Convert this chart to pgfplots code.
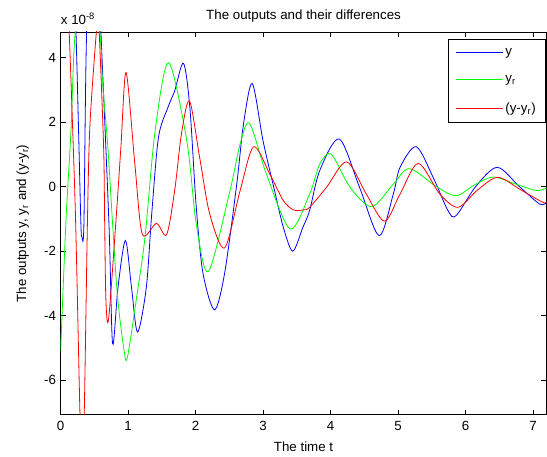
\documentclass[border=0pt]{standalone}
\usepackage{fontspec}
\setmainfont{Liberation Sans}
\usepackage{pgfplots}
\pgfplotsset{compat=1.18}
\definecolor{mblue}{rgb}{0,0,1}
\definecolor{mgreen}{rgb}{0,1,0}
\definecolor{mred}{rgb}{1,0,0}
\begin{document}
\begin{tikzpicture}
\useasboundingbox (-45.5pt,-31.5pt) rectangle (364.9pt,311.25pt);
\begin{axis}[
  scale only axis, width=364.5pt, height=287.25pt,
  xmin=0, xmax=7.2, ymin=-7.08, ymax=4.8,
  xtick={0,...,7}, ytick={-6,-4,...,4},
  tick align=inside, major tick length=3.75pt,
  axis line style={line width=0.6pt},
  every tick/.style={black, line width=0.6pt},
  /pgf/number format/assume math mode=true,
  tick label style={font=\normalsize},
  xticklabel style={yshift=-1.5pt},
  xlabel={The time t},
  xlabel style={at={(axis description cs:0.5,-0.0957)}, anchor=base},
  ylabel={The outputs y, y\textsubscript{r} and (y-y\textsubscript{r})},
  ylabel style={at={(axis description cs:-0.0713,0.5)}, anchor=base},
  legend style={at={(0.998,0.981)}, anchor=north east, draw=black,
    line width=0.6pt, inner xsep=5.5pt, inner ysep=5pt, row sep=10.5pt,
    nodes={inner sep=1.5pt}},
  legend cell align=left,
  legend image code/.code={\draw[#1] (0pt,0pt) -- (35pt,0pt);},
  every axis plot/.append style={line width=0.6pt, smooth},
]
\addplot[mblue] coordinates {
(0,5.2) (0.08,5.8) (0.15,6.0) (0.2,5.6) (0.227,4.8) (0.265,1.8) (0.30,-1.15)
(0.316,-1.57) (0.345,-1.15) (0.385,4.8) (0.49,10) (0.597,4.8) (0.716,-1.15)
(0.77,-4.87) (0.85,-3.12) (0.96,-1.67) (1.05,-3.12) (1.14,-4.51) (1.27,-3.12)
(1.35,-0.84) (1.45,1.53) (1.59,2.46) (1.69,2.97) (1.82,3.83) (1.915,2.46)
(2.01,-0.64) (2.11,-2.69) (2.28,-3.82) (2.43,-2.69) (2.61,0.08) (2.71,1.94)
(2.84,3.20) (3.00,1.42) (3.17,-0.12) (3.30,-1.26) (3.44,-2.0) (3.59,-1.26)
(3.69,-0.74) (3.84,0.50) (4.13,1.48) (4.43,-0.02) (4.72,-1.52) (4.93,-0.23)
(5.03,0.60) (5.27,1.24) (5.52,0.29) (5.74,-0.74) (5.86,-0.90) (6.15,0)
(6.47,0.60) (6.80,0) (7.10,-0.54) (7.2,-0.49)
};
\addlegendentry{y}
\addplot[mgreen] coordinates {
(0,-5.1) (0.079,-1.05) (0.153,1.73) (0.216,4.8) (0.40,8.0) (0.58,4.8)
(0.62,3.28) (0.70,1.22) (0.77,-1.15) (0.844,-3.43) (0.94,-5.08) (0.99,-5.29)
(1.126,-3.43) (1.25,-1.57) (1.40,1.73) (1.60,3.85) (1.87,1.42) (2.01,-1.16)
(2.19,-2.63) (2.51,-0.12) (2.66,1.32) (2.80,1.96) (3.05,0.39) (3.40,-1.31)
(3.69,-0.23) (3.84,0.70) (4.01,1.01) (4.29,-0.02) (4.61,-0.62) (4.93,0.08)
(5.17,0.56) (5.57,0) (5.86,-0.28) (6.13,0.05) (6.41,0.30) (6.73,0.09)
(7.05,-0.12) (7.2,-0.04)
};
\addlegendentry{y\textsubscript{r}}
\addplot[mred] coordinates {
(0,10.5) (0.06,8) (0.127,4.8) (0.207,0) (0.237,-2.39) (0.286,-7.03)
(0.318,-9) (0.35,-7.03) (0.397,-1.1) (0.43,1.73) (0.50,4.0) (0.553,5.3)
(0.572,4.8) (0.637,1.22) (0.652,-1.05) (0.671,-3.53) (0.711,-4.1) (0.82,-1.05)
(0.893,1.22) (0.97,3.54) (1.10,0.70) (1.21,-1.47) (1.42,-1.14) (1.57,-1.49)
(1.69,-0.12) (1.79,1.63) (1.91,2.66) (2.06,0.91) (2.21,-0.85) (2.43,-1.90)
(2.66,-0.12) (2.86,1.24) (3.10,0.39) (3.30,-0.43) (3.45,-0.72) (3.60,-0.72)
(3.69,-0.64) (3.94,-0.02) (4.24,0.77) (4.53,-0.23) (4.80,-1.07) (5.03,-0.23)
(5.30,0.72) (5.62,-0.23) (5.89,-0.64) (6.18,-0.1) (6.48,0.29) (6.82,-0.1)
(7.15,-0.49) (7.2,-0.47)
};
\addlegendentry{(y-y\textsubscript{r})}
\end{axis}
\node[anchor=base, inner sep=0pt] at (182.25pt,296.5pt) {The outputs and their differences};
\node[anchor=base west, inner sep=0pt] at (0pt,293pt) {x 10\textsuperscript{-8}};
\end{tikzpicture}
\end{document}
